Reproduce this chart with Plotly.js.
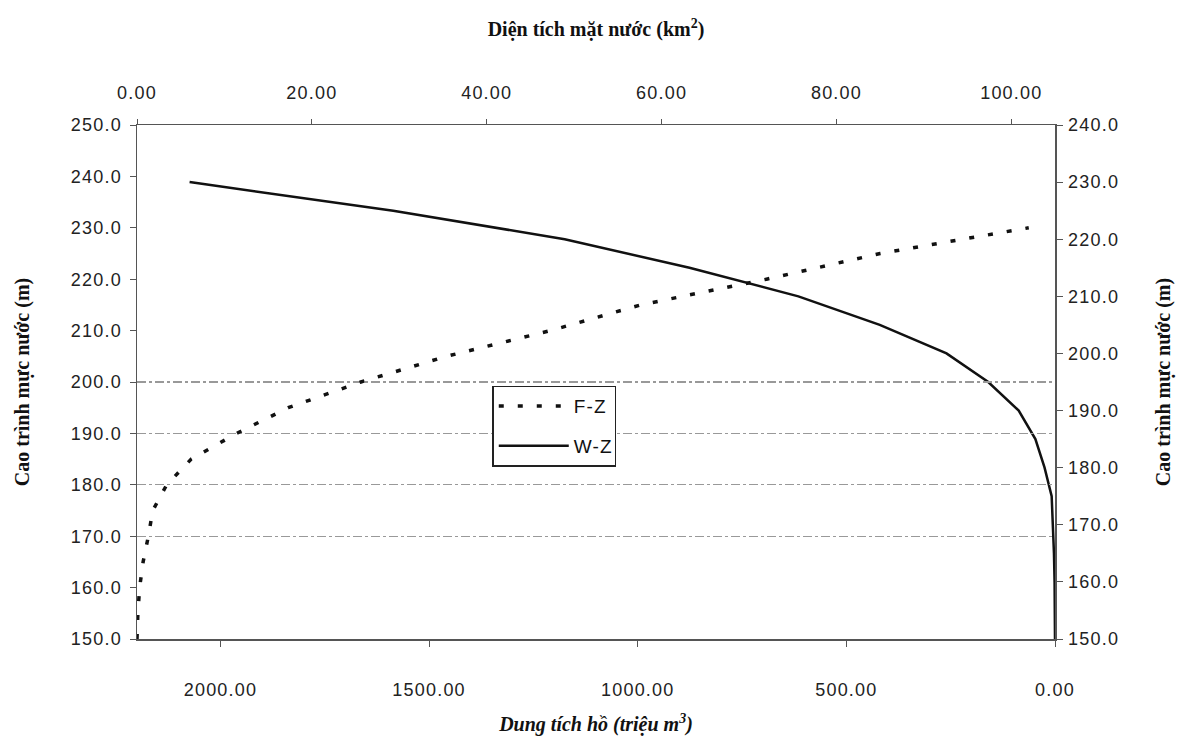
<!DOCTYPE html>
<html>
<head>
<meta charset="utf-8">
<script src="https://cdn.plot.ly/plotly-3.0.1.min.js"></script>
<style>
html,body{margin:0;padding:0;background:#fff;}
#chart{width:1181px;height:740px;}
#chart .xtick text, #chart .x2tick text, #chart .ytick text, #chart .y2tick text, #chart .legendtext {letter-spacing:1.2px;}
</style>
</head>
<body>
<div id="chart"></div>
<script>
// F-Z: water surface area (km2) vs elevation (m) - top axis / left axis
const elevFZ = [150, 155, 160, 165, 170, 175, 180, 185, 190, 195, 200, 205, 210, 215, 220, 225, 230];
const areaFZ = [0.0, 0.1, 0.3, 0.7, 1.3, 1.8, 3.4, 6.2, 11.4, 17.3, 25.6, 35.4, 47.3, 57.6, 72.0, 85.0, 102.0];
// W-Z: reservoir volume (million m3) vs elevation (m) - bottom axis / right axis
const elevWZ = [150, 155, 160, 165, 170, 175, 180, 185, 190, 195, 200, 205, 210, 215, 220, 225, 230];
const volWZ  = [0, 0.2, 1, 2.5, 5, 8, 25, 47, 87, 160, 260, 420, 615, 876, 1175, 1586, 2074];
// tick labels / grid levels
const areaTicks = [0, 20, 40, 60, 80, 100];
const volTicks = [0, 500, 1000, 1500, 2000];
const gridLevels = [170, 180, 190, 200];

const tickFont = {family: '"Liberation Sans", Arial, sans-serif', size: 18, color: '#222'};
const titleFont = {family: '"Liberation Serif", "Times New Roman", serif', size: 20, color: '#111'};
const axLine = '#555';

const traces = [
  {x: areaFZ, y: elevFZ, xaxis: 'x2', yaxis: 'y', type: 'scatter', mode: 'lines', name: 'F-Z',
   legendgroup: 'a', line: {color: '#111', width: 3.5, dash: '5px,14px'}},
  {x: volWZ, y: elevWZ, xaxis: 'x', yaxis: 'y2', type: 'scatter', mode: 'lines', name: 'W-Z',
   legendgroup: 'b', line: {color: '#111', width: 2.5}},
  {x: [], y: [], xaxis: 'x', yaxis: 'y3', type: 'scatter', mode: 'lines', showlegend: false, hoverinfo: 'skip'}
];

const layout = {
  width: 1181, height: 740,
  margin: {l: 137, r: 126, t: 125, b: 101, pad: 0},
  paper_bgcolor: '#fff', plot_bgcolor: 'rgba(0,0,0,0)',
  showlegend: true,
  legend: {x: 0.387, y: 0.493, xanchor: 'left', yanchor: 'top', bgcolor: '#fff',
           bordercolor: '#222', borderwidth: 1.5, font: {family: '"Liberation Sans", Arial, sans-serif', size: 19, color: '#111'},
           itemwidth: 70, tracegroupgap: 12, traceorder: 'grouped'},
  xaxis: {range: [2200, 0], tickvals: volTicks, tickformat: '.2f', anchor: 'y', side: 'bottom',
          showline: true, linecolor: axLine, linewidth: 1.5, ticks: 'outside', ticklen: 6, tickcolor: axLine,
          showgrid: false, zeroline: false, tickfont: tickFont, ticklabelstandoff: 28,
          title: {text: '<b><i>Dung tích hồ (triệu m<sup>3</sup>)</i></b>', font: titleFont, standoff: 18}},
  xaxis2: {range: [0, 105], tickvals: areaTicks, tickformat: '.2f', overlaying: 'x', side: 'top', anchor: 'y',
           showline: true, linecolor: axLine, linewidth: 1.5, ticks: 'outside', ticklen: 5, tickcolor: axLine,
           showgrid: false, zeroline: false, tickfont: tickFont, ticklabelstandoff: 12,
           title: {text: '<b>Diện tích mặt nước (km<sup>2</sup>)</b>', font: titleFont, standoff: 41}},
  yaxis: {range: [150, 250], dtick: 10, tickformat: '.1f', anchor: 'x', side: 'left',
          showline: true, linecolor: axLine, linewidth: 1.5, ticks: 'outside', ticklen: 6, tickcolor: axLine,
          showgrid: false, zeroline: false, tickfont: tickFont, ticklabelstandoff: 4,
          title: {text: '<b>Cao trình mực nước (m)</b>', font: titleFont, standoff: 42}},
  yaxis2: {range: [150, 240], dtick: 10, tickformat: '.1f', overlaying: 'y', side: 'right', anchor: 'x',
           showline: true, linecolor: axLine, linewidth: 1.5, ticks: 'outside', ticklen: 6, tickcolor: axLine,
           showgrid: false, zeroline: false, tickfont: tickFont, ticklabelstandoff: 2,
           title: {text: '<b>Cao trình mực nước (m)</b>', font: titleFont, standoff: 44}},
  yaxis3: {range: [150, 250], tickvals: gridLevels, overlaying: 'y', anchor: 'x', side: 'left',
           showticklabels: false, ticks: '', showline: false, zeroline: false,
           showgrid: true, gridcolor: '#999', gridwidth: 1.2, griddash: 'dashdot'}
};

Plotly.newPlot('chart', traces, layout, {staticPlot: true, displayModeBar: false});
</script>
</body>
</html>
